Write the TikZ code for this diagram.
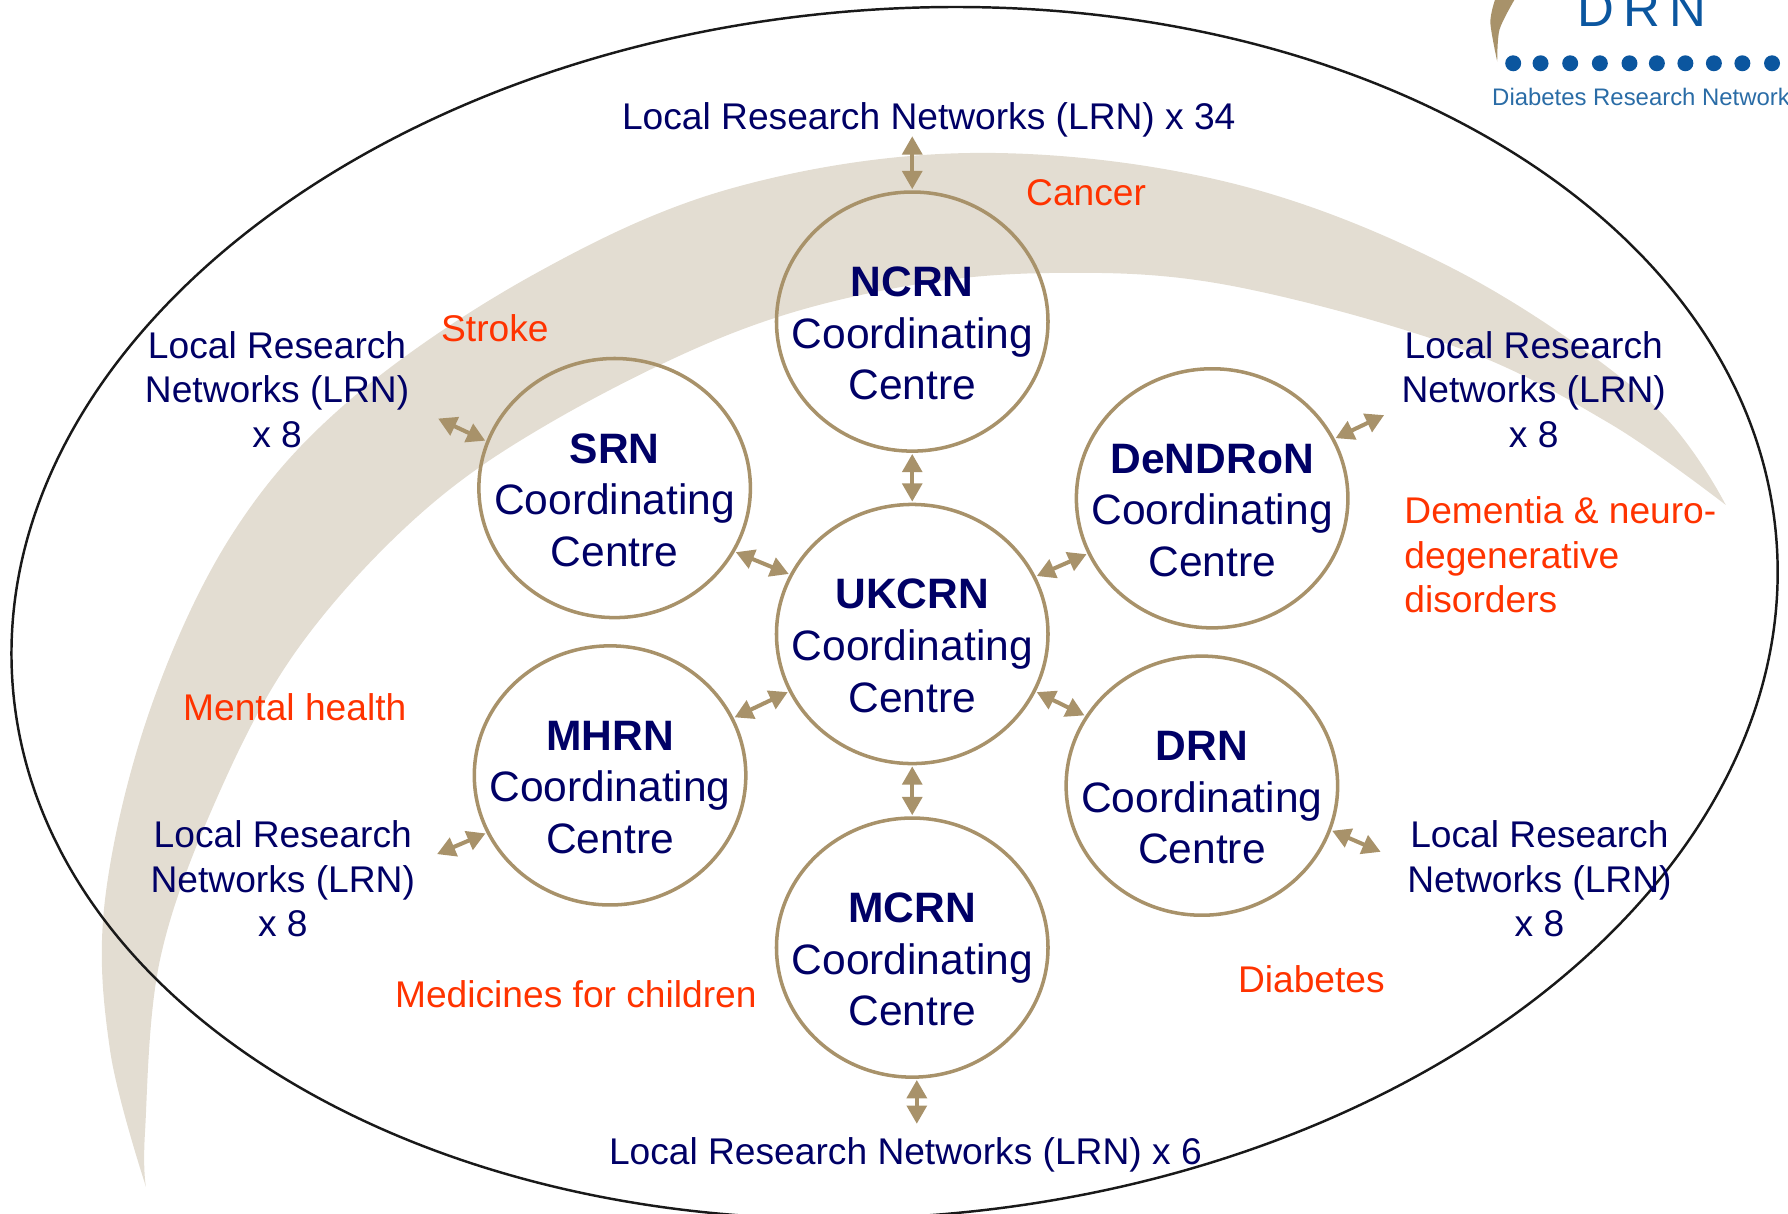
\documentclass[tikz,border=0pt]{standalone}
\usepackage{fontspec}
\setmainfont{Liberation Sans}
\usetikzlibrary{arrows.meta,shapes.geometric}
\definecolor{navytxt}{HTML}{000066}
\definecolor{redtxt}{HTML}{FF3300}
\definecolor{tan}{HTML}{A8926A}
\definecolor{pale}{HTML}{E3DDD2}
\definecolor{logoblue}{HTML}{0B569F}
\definecolor{logotxt}{HTML}{2A6CA6}
\tikzset{
 hub/.style={ellipse,draw=tan,line width=1pt,minimum width=2.714cm,minimum height=2.59cm,inner sep=0pt,outer sep=0pt},
 hubtext/.style={align=center,text=navytxt,inner sep=0pt,yshift=-1.2mm,font=\fontsize{12.1pt}{14.7pt}\selectfont},
 lrn/.style={align=center,text=navytxt,inner sep=0pt,font=\fontsize{10.57pt}{12.7pt}\selectfont},
 disease/.style={align=left,text=redtxt,inner sep=0pt,font=\fontsize{10.57pt}{12.7pt}\selectfont},
 link/.style={draw=tan,line width=1.15pt,{Triangle[length=5.2pt,width=5.6pt]}-{Triangle[length=5.2pt,width=5.6pt]},shorten >=0.8pt,shorten <=0.8pt},
}
\newcommand{\hubnode}[3]{\node[hub] (#1) at (#2) {}; \node[hubtext] (#1t) at (#2) {\textbf{#3}\\Coordinating\\Centre};}
\begin{document}
\begin{tikzpicture}[x=0.011403cm,y=-0.011403cm]
\useasboundingbox (0,0) rectangle (1568,1064.6);
% crescent (coordinates in reference pixels)
\begin{scope}[x=0.01cm,y=-0.01cm]
\fill[pale] plot[smooth,tension=0.6] coordinates {(146,1187)(110,1050)(105,900)(150,710)(233,533)(350,400)(533,275)(733,188)(972,153)(1227,182)(1456,270)(1647,399)(1726,505)}
 -- plot[smooth,tension=0.6] coordinates {(1726,505)(1609,423)(1456,347)(1227,285)(1053,273)(896,288)(733,333)(550,423)(417,517)(297,650)(217,798)(160,960)(145,1133)(146,1187)} -- cycle;
\end{scope}
% outer ellipse
\draw[line width=0.7pt,draw=black!90,rotate around={5:(784.5,537.5)}] (784.5,537.5) ellipse (776 and 529);
% logo
\fill[tan] plot[smooth] coordinates {(1311,0)(1307,20)(1313,54)} -- plot[smooth] coordinates {(1313,54)(1315,26)(1328,0)} -- cycle;
\foreach \x in {1327,1351,1377,1403,1429,1453,1478,1503,1528,1554} \fill[logoblue] (\x,55.5) circle (7);
\node[anchor=base,inner sep=0pt,text=logoblue,font=\fontsize{14.5pt}{16pt}\selectfont] (logoname) at (1440,23) {D\hspace{2.7pt}R\hspace{2.7pt}N};
\node[anchor=base west,inner sep=0pt,text=logotxt,font=\fontsize{6.8pt}{8pt}\selectfont] (logotext) at (1308,92.5) {Diabetes Research Network};
% hubs
\hubnode{N}{800,282}{NCRN}
\hubnode{S}{539,428}{SRN}
\hubnode{De}{1063,437}{DeNDRoN}
\hubnode{U}{800,556}{UKCRN}
\hubnode{MH}{535,680}{MHRN}
\hubnode{D}{1054,689}{DRN}
\hubnode{MC}{800,831}{MCRN}
% labels
\node[lrn,anchor=base] (ltop) at (814.5,114) {Local Research Networks (LRN) x 34};
\node[lrn,anchor=base] (lbot) at (794,1021) {Local Research Networks (LRN) x 6};
\node[lrn,anchor=north] (lS) at (243,290) {Local Research\\Networks (LRN)\\x 8};
\node[lrn,anchor=north] (lDe) at (1345,290) {Local Research\\Networks (LRN)\\x 8};
\node[lrn,anchor=north] (lMH) at (248,719) {Local Research\\Networks (LRN)\\x 8};
\node[lrn,anchor=north] (lD) at (1350,719) {Local Research\\Networks (LRN)\\x 8};
\node[disease,anchor=base] (cancer) at (952.5,180) {Cancer};
\node[disease,anchor=base] (stroke) at (434,299.5) {Stroke};
\node[disease,anchor=base] (mental) at (258.5,631.5) {Mental health};
\node[disease,anchor=base] (medic) at (505,883.5) {Medicines for children};
\node[disease,anchor=base] (diab) at (1150,870) {Diabetes};
\node[disease,anchor=north west] (dem) at (1231,435) {Dementia \& neuro-\\degenerative\\disorders};
% free ends
\coordinate (ftop) at (800,117);
\coordinate (fbot) at (804,988);
\coordinate (fS) at (382,366);
\coordinate (fDe) at (1216,363);
\coordinate (fMH) at (381,750);
\coordinate (fD) at (1213,748);
% connectors
\draw[link] (ftop) -- (N.north);
\draw[link] (N.south) -- (U.north);
\draw[link] (U.south) -- (MC.north);
\draw[link] (MC.south -| fbot) -- (fbot);
\draw[link] (S.-28) -- (U.154);
\draw[link] (De.204) -- (U.25);
\draw[link] (MH.25) -- (U.205);
\draw[link] (D.149) -- (U.-25);
\draw[link] (fS) -- (S.160);
\draw[link] (fDe) -- (De.26);
\draw[link] (fMH) -- (MH.205);
\draw[link] (fD) -- (D.-19);
\end{tikzpicture}
\end{document}
